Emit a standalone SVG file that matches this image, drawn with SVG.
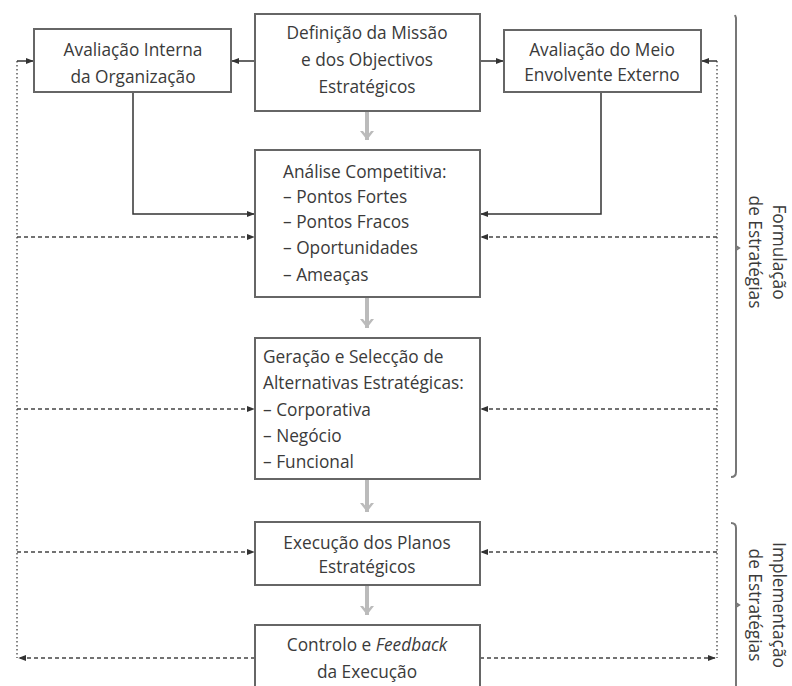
<svg xmlns="http://www.w3.org/2000/svg" width="792" height="686" viewBox="0 0 792 686">
<defs>
<marker id="ah" viewBox="0 0 10 10" refX="9" refY="5" markerWidth="8" markerHeight="8" markerUnits="userSpaceOnUse" orient="auto">
<path d="M0,1 L10,5 L0,9 Z" fill="#333"/>
</marker>
<marker id="gh" viewBox="0 0 14 12" refX="7" refY="11" markerWidth="14" markerHeight="12" markerUnits="userSpaceOnUse" orient="0">
<path d="M0,2 L7,11 L14,2 L11,2 L7,7 L3,2 Z" fill="#bbb"/>
</marker>
</defs>
<style>
.box{fill:#fff;stroke:#666;stroke-width:2}
.t{font-family:"Open Sans","Noto Sans","DejaVu Sans",sans-serif;font-size:17.3px;fill:#3a3a3a}
.c{text-anchor:middle}
.solid{fill:none;stroke:#333;stroke-width:1.5}
.dash{fill:none;stroke:#444;stroke-width:1.3;stroke-dasharray:4 3}
.dot{fill:none;stroke:#666;stroke-width:1.6;stroke-dasharray:1.5 2.5}
.gray{fill:none;stroke:#bbb;stroke-width:4}
.br{fill:none;stroke:#777;stroke-width:2}
</style>
<rect width="792" height="686" fill="#fff"/>

<g id="connectors">
<line class="solid" x1="255" y1="61" x2="232" y2="61" marker-end="url(#ah)"/>
<line class="solid" x1="480" y1="61" x2="503" y2="61" marker-end="url(#ah)"/>
<polyline class="solid" points="133,92 133,214 254,214" marker-end="url(#ah)"/>
<polyline class="solid" points="601,92 601,214 481,214" marker-end="url(#ah)"/>
<line class="dot" x1="17" y1="61" x2="17" y2="658"/>
<line class="dot" x1="717" y1="61" x2="717" y2="658"/>
<line class="solid" x1="17" y1="61" x2="33" y2="61" marker-end="url(#ah)"/>
<line class="solid" x1="717" y1="61" x2="702" y2="61" marker-end="url(#ah)"/>
<line class="dash" x1="17" y1="237" x2="254" y2="237" marker-end="url(#ah)"/>
<line class="dash" x1="717" y1="237" x2="481" y2="237" marker-end="url(#ah)"/>
<line class="dash" x1="17" y1="409" x2="254" y2="409" marker-end="url(#ah)"/>
<line class="dash" x1="717" y1="409" x2="481" y2="409" marker-end="url(#ah)"/>
<line class="dash" x1="17" y1="552" x2="254" y2="552" marker-end="url(#ah)"/>
<line class="dash" x1="717" y1="552" x2="481" y2="552" marker-end="url(#ah)"/>
<line class="dash" x1="255" y1="658" x2="19" y2="658" marker-end="url(#ah)"/>
<line class="dash" x1="480" y1="658" x2="715" y2="658" marker-end="url(#ah)"/>
<line class="gray" x1="367" y1="112" x2="367" y2="140" marker-end="url(#gh)"/>
<line class="gray" x1="367" y1="298" x2="367" y2="328" marker-end="url(#gh)"/>
<line class="gray" x1="367" y1="480" x2="367" y2="512" marker-end="url(#gh)"/>
<line class="gray" x1="367" y1="586" x2="367" y2="615" marker-end="url(#gh)"/>
</g>

<g id="node-missao">
<rect class="box" x="255" y="14" width="225" height="97"/>
<text class="t c" x="367" y="39">Definição da Missão</text>
<text class="t c" x="367" y="66">e dos Objectivos</text>
<text class="t c" x="367" y="93">Estratégicos</text>
</g>
<g id="node-interna">
<rect class="box" x="34" y="29" width="197" height="63"/>
<text class="t c" x="133" y="56">Avaliação Interna</text>
<text class="t c" x="133" y="83">da Organização</text>
</g>
<g id="node-externa">
<rect class="box" x="504" y="30" width="197" height="62"/>
<text class="t c" x="602" y="56">Avaliação do Meio</text>
<text class="t c" x="602" y="81">Envolvente Externo</text>
</g>
<g id="node-analise">
<rect class="box" x="255" y="150" width="225" height="147"/>
<text class="t" x="283" y="178">Análise Competitiva:</text>
<text class="t" x="283" y="203">– Pontos Fortes</text>
<text class="t" x="283" y="228">– Pontos Fracos</text>
<text class="t" x="283" y="254">– Oportunidades</text>
<text class="t" x="283" y="281">– Ameaças</text>
</g>
<g id="node-geracao">
<rect class="box" x="255" y="338" width="225" height="141"/>
<text class="t" x="263" y="363">Geração e Selecção de</text>
<text class="t" x="263" y="389">Alternativas Estratégicas:</text>
<text class="t" x="263" y="416">– Corporativa</text>
<text class="t" x="263" y="442">– Negócio</text>
<text class="t" x="263" y="468">– Funcional</text>
</g>
<g id="node-execucao">
<rect class="box" x="255" y="522" width="225" height="63"/>
<text class="t c" x="367" y="549">Execução dos Planos</text>
<text class="t c" x="367" y="573">Estratégicos</text>
</g>
<g id="node-controlo">
<rect class="box" x="255" y="625" width="225" height="70"/>
<text class="t c" x="367" y="651">Controlo e <tspan font-style="italic">Feedback</tspan></text>
<text class="t c" x="367" y="678">da Execução</text>
</g>

<g id="bracket-formulacao">
<path class="br" d="M735,15 L736,18 L736,472 Q736,477 731,477"/>
<path class="br" d="M736,246 L739,248 L736,250" stroke-width="1"/>
<text class="t c" transform="translate(773,252) rotate(90)">Formulação</text>
<text class="t c" transform="translate(749,252) rotate(90)">de Estratégias</text>
</g>
<g id="bracket-implementacao">
<path class="br" d="M731,523 Q736,523 736,528 L736,690"/>
<path class="br" d="M736,603 L739,605 L736,607" stroke-width="1"/>
<text class="t c" transform="translate(773,605) rotate(90)">Implementação</text>
<text class="t c" transform="translate(749,605) rotate(90)">de Estratégias</text>
</g>
</svg>
